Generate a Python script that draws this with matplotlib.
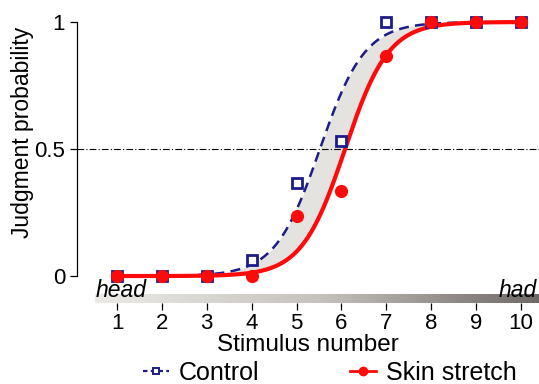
import numpy as np
import matplotlib.pyplot as plt
from matplotlib.colors import LinearSegmentedColormap
from matplotlib.lines import Line2D

plt.rcParams['font.family'] = ['Liberation Sans', 'DejaVu Sans']

stimulus = [1, 2, 3, 4, 5, 6, 7, 8, 9, 10]
control = [0, 0, 0, 0.065, 0.365, 0.53, 1.0, 1.0, 1.0, 1.0]
skin_stretch = [0, 0, 0, 0.0, 0.235, 0.335, 0.865, 1.0, 1.0, 1.0]

# fitted logistic parameters (midpoint, slope)
control_fit = (5.52, 2.0)
skin_fit = (6.08, 2.07)

navy = '#1c1c8a'
red = '#ff0a0a'


def logistic(x, mu, k):
    return 1.0 / (1.0 + np.exp(-k * (x - mu)))


fig = plt.figure(figsize=(5.39, 3.84), dpi=100)
ax = fig.add_axes([77 / 539, (384 - 303) / 384, 1 - 77 / 539, (303 - 8) / 384])

xs = np.linspace(1, 10, 400)
yc = logistic(xs, *control_fit)
ys = logistic(xs, *skin_fit)

ax.fill_between(xs, ys, yc, color='#e4e3df', lw=0, zorder=1)
ax.axhline(0.5, color='black', lw=0.8, ls=(0, (6, 2, 1, 2)), zorder=2)
ax.plot(xs, yc, color=navy, lw=1.8, ls=(0, (4, 2.5)), zorder=3)
ax.plot(xs, ys, color=red, lw=3.0, zorder=4)
ax.plot(stimulus, control, ls='none', marker='s', ms=7, mfc='white',
        mec=navy, mew=2.0, zorder=5)
ax.plot(stimulus, skin_stretch, ls='none', marker='o', ms=9.5, mfc=red,
        mec=red, mew=0, zorder=6)

# gradient bar under the plot
cmap = LinearSegmentedColormap.from_list('bar', ['#ecebe8', '#c6c2bc', '#6e6866'])
grad = np.linspace(0, 1, 256).reshape(1, -1)
ax.imshow(grad, cmap=cmap, aspect='auto', extent=[0.51, 10.45, -0.106, -0.074],
          zorder=0)
ax.text(0.53, -0.083, 'head', style='italic', fontsize=16.5, ha='left', va='baseline', zorder=7)
ax.text(10.36, -0.083, 'had', style='italic', fontsize=16.5, ha='right', va='baseline', zorder=7)

ax.set_xlim(0.109, 10.40)
ax.set_ylim(-0.106, 1 + 14 / 254)

for side in ['top', 'right', 'bottom']:
    ax.spines[side].set_visible(False)
ax.spines['left'].set_bounds(0, 1)
ax.spines['left'].set_linewidth(0.9)

ax.set_yticks([0, 0.5, 1])
ax.set_yticklabels(['0', '0.5', '1'])
ax.set_xticks(stimulus)
ax.tick_params(axis='both', labelsize=16, length=5, width=0.9, direction='out')
ax.tick_params(axis='x', pad=2)
ax.set_xlabel('Stimulus number', fontsize=17.5, labelpad=0)
ax.set_ylabel('Judgment probability', fontsize=16.5)
ax.yaxis.set_label_coords(-0.093, 0.58)

handles = [
    Line2D([0], [0], color=navy, lw=1.6, ls=(0, (2, 1.5)), marker='s', ms=4.5,
           mfc='white', mec=navy, mew=1.4),
    Line2D([0], [0], color=red, lw=2.0, marker='o', ms=6, mfc=red, mec=red),
]
fig.legend(handles, ['Control', 'Skin stretch'], loc='lower center',
           bbox_to_anchor=(0.612, -0.06), ncol=2, frameon=False, fontsize=18,
           handlelength=1.05, handletextpad=0.4, columnspacing=3.6)

fig.savefig('out.png', dpi=100)
